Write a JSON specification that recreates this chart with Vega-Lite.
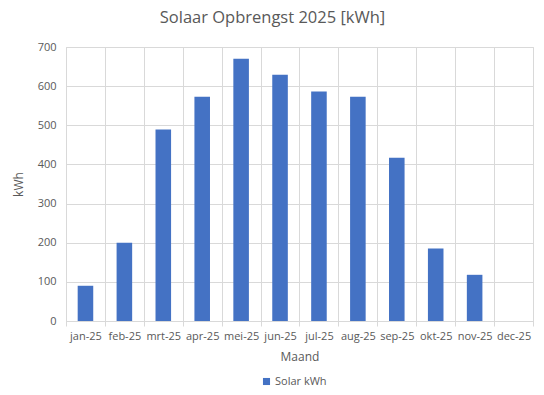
{
  "$schema": "https://vega.github.io/schema/vega-lite/v6.json",
  "width": 467,
  "height": 274,
  "autosize": {"type": "none"},
  "padding": {"left": 66, "top": 47, "right": 11, "bottom": 74},
  "background": "white",
  "title": {
    "text": "Solaar Opbrengst 2025 [kWh]",
    "fontSize": 16.5,
    "font": "Open Sans",
    "fontWeight": "normal",
    "color": "#595959",
    "anchor": "middle",
    "dx": -27,
    "offset": 15
  },
  "data": {
    "values": [
      {"Maand": "jan-25", "kWh": 90, "serie": "Solar kWh"},
      {"Maand": "feb-25", "kWh": 200, "serie": "Solar kWh"},
      {"Maand": "mrt-25", "kWh": 489, "serie": "Solar kWh"},
      {"Maand": "apr-25", "kWh": 573, "serie": "Solar kWh"},
      {"Maand": "mei-25", "kWh": 670, "serie": "Solar kWh"},
      {"Maand": "jun-25", "kWh": 629, "serie": "Solar kWh"},
      {"Maand": "jul-25", "kWh": 586, "serie": "Solar kWh"},
      {"Maand": "aug-25", "kWh": 573, "serie": "Solar kWh"},
      {"Maand": "sep-25", "kWh": 417, "serie": "Solar kWh"},
      {"Maand": "okt-25", "kWh": 185, "serie": "Solar kWh"},
      {"Maand": "nov-25", "kWh": 118, "serie": "Solar kWh"},
      {"Maand": "dec-25", "kWh": 0, "serie": "Solar kWh"}
    ]
  },
  "mark": {"type": "bar", "width": {"band": 0.4}},
  "encoding": {
    "x": {
      "field": "Maand",
      "type": "nominal",
      "sort": null,
      "scale": {"paddingInner": 0, "paddingOuter": 0},
      "axis": {
        "title": "Maand",
        "labelAngle": 0,
        "tickBand": "extent",
        "grid": true,
        "gridColor": "#d9d9d9",
        "domainColor": "#d9d9d9",
        "tickColor": "#d9d9d9",
        "tickSize": 5,
        "labelPadding": 4,
        "labelFont": "Open Sans",
        "labelFontSize": 11,
        "labelColor": "#595959",
        "titleFont": "Open Sans",
        "titleFontSize": 12,
        "titleFontWeight": "normal",
        "titleColor": "#595959",
        "titlePadding": 10
      }
    },
    "y": {
      "field": "kWh",
      "type": "quantitative",
      "scale": {"domain": [0, 700]},
      "axis": {
        "title": "kWh",
        "values": [0, 100, 200, 300, 400, 500, 600, 700],
        "grid": true,
        "gridColor": "#d9d9d9",
        "domain": false,
        "ticks": false,
        "labelPadding": 10,
        "labelFont": "Open Sans",
        "labelFontSize": 11,
        "labelColor": "#595959",
        "titleFont": "Open Sans",
        "titleFontSize": 12,
        "titleFontWeight": "normal",
        "titleColor": "#595959",
        "titlePadding": 12
      }
    },
    "color": {
      "field": "serie",
      "type": "nominal",
      "scale": {"range": ["#4472c4"]},
      "legend": {
        "title": null,
        "orient": "none",
        "legendX": 195,
        "legendY": 329,
        "symbolType": "square",
        "symbolSize": 50,
        "labelFont": "Open Sans",
        "labelFontSize": 11,
        "labelColor": "#595959",
        "labelOffset": 3
      }
    }
  },
  "config": {"view": {"stroke": "#d9d9d9"}}
}
